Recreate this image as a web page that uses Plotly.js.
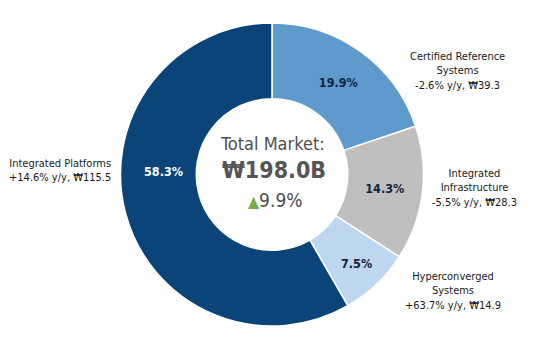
<!DOCTYPE html>
<html>
<head>
<meta charset="utf-8">
<script src="https://cdn.plot.ly/plotly-3.0.1.min.js"></script>
<style>html,body{margin:0;padding:0;background:#fff;}#chart{width:547px;height:354px;}</style>
</head>
<body>
<div id="chart"></div>
<script>
// Data
const segments = ["Certified Reference Systems", "Integrated Infrastructure", "Hyperconverged Systems", "Integrated Platforms"];
const labelLines = [["Certified Reference", "Systems"], ["Integrated", "Infrastructure"], ["Hyperconverged", "Systems"], ["Integrated Platforms"]];
const values = [39.3, 28.3, 14.9, 115.5];
const shares = ["19.9%", "14.3%", "7.5%", "58.3%"];
const yoy = ["-2.6%", "-5.5%", "+63.7%", "+14.6%"];
const totalMarket = "₩198.0B";
const totalGrowth = "9.9%";

const colors = ["#5e9bcc", "#bfbfbf", "#bdd7ee", "#0b4478"];
const FONT = "DejaVu Sans Condensed, DejaVu Sans, sans-serif";

// inside text: last (large) slice label placed with annotation
const insideText = shares.map((p, i) => i === 3 ? "" : p);

const trace = {
  type: "pie",
  labels: segments,
  values: values,
  text: insideText,
  textinfo: "text",
  hole: 0.5,
  sort: false,
  direction: "clockwise",
  rotation: 0,
  textposition: "inside",
  insidetextorientation: "horizontal",
  insidetextfont: {family: FONT, size: 12.5, color: "#13233a", weight: "bold"},
  marker: {colors: colors, line: {color: "#ffffff", width: 1.5}},
  showlegend: false,
  hoverinfo: "label+value+percent"
};

const outsidePos = [
  {x: 457, y: 71},
  {x: 474, y: 188},
  {x: 453, y: 291},
  {x: 60, y: 170}
];
const annotations = segments.map((s, i) => ({
  xref: "paper", yref: "paper",
  x: outsidePos[i].x / 544, y: 1 - (outsidePos[i].y - 23) / 303,
  xanchor: "center", yanchor: "middle",
  text: labelLines[i].concat([yoy[i] + " y/y, ₩" + values[i].toFixed(1)]).join("<br>"),
  showarrow: false, align: "center",
  font: {family: FONT, size: 11, color: "#1a1a1a"}
}));
annotations.push({
  xref: "paper", yref: "paper", x: 163 / 544, y: 1 - (171 - 23) / 303,
  xanchor: "center", yanchor: "middle", showarrow: false,
  text: shares[3], font: {family: FONT, size: 12.5, color: "#ffffff", weight: "bold"}
});
// Center text
annotations.push({
  xref: "paper", yref: "paper", x: 272 / 544, y: 1 - (143 - 23) / 303,
  xanchor: "center", yanchor: "middle", showarrow: false,
  text: "Total Market:", font: {family: FONT, size: 18, color: "#4f4f4f"}
});
annotations.push({
  xref: "paper", yref: "paper", x: 274 / 544, y: 1 - (170 - 23) / 303,
  xanchor: "center", yanchor: "middle", showarrow: false,
  text: "<b>" + totalMarket + "</b>", font: {family: FONT, size: 23, color: "#555555"}
});
annotations.push({
  xref: "paper", yref: "paper", x: 275 / 544, y: 1 - (200 - 23) / 303,
  xanchor: "center", yanchor: "middle", showarrow: false,
  text: "<span style='color:#70ad47;font-size:16px'>▲</span>" + totalGrowth, font: {family: FONT, size: 19, color: "#4f4f4f"}
});

const layout = {
  width: 547, height: 354,
  margin: {l: 0, r: 3, t: 23, b: 28},
  paper_bgcolor: "#ffffff",
  plot_bgcolor: "#ffffff",
  font: {family: FONT},
  annotations: annotations
};

Plotly.newPlot("chart", [trace], layout, {displayModeBar: false, staticPlot: true});
</script>
</body>
</html>
